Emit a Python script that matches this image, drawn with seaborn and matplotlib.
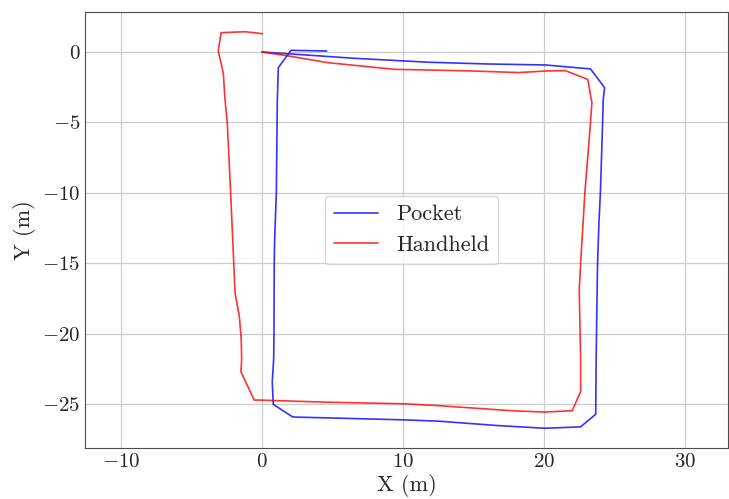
import matplotlib
matplotlib.use('Agg')
import matplotlib.pyplot as plt
import seaborn as sns
import pandas as pd

# траектория "Pocket" (синяя)
pocket_x = [0.0, 6.6, 11.9, 16.0, 20.1, 23.3, 24.3, 24.2, 24.16, 24.0, 23.9, 23.8, 23.7,
            23.67, 22.6, 20.07, 16.6, 12.6, 10.0, 2.18, 0.8, 0.73, 0.83, 0.85,
            0.87, 0.9, 1.02, 1.09, 1.16, 2.06, 4.59]
pocket_y = [0.0, -0.45, -0.73, -0.85, -0.92, -1.2, -2.53, -3.4, -5.0, -10.0, -12.1, -15.0, -21.8,
            -25.7, -26.6, -26.7, -26.5, -26.2, -26.1, -25.9, -25.0, -23.4, -21.8, -20.4,
            -15.0, -13.3, -10.0, -3.4, -1.11, 0.12, 0.07]

# траектория "Handheld" (красная)
hand_x = [0.0, 1.87, 4.7, 9.4, 11.9, 15.0, 18.2, 20.1, 21.5, 23.1, 23.4, 23.3, 22.9, 22.6,
          22.5, 22.6, 22.6, 22.0, 20.07, 17.8, 12.6, 10.0, 4.6, -0.14, -0.55, -1.49,
          -1.44, -1.47, -1.6, -1.91, -2.0, -2.22, -2.46, -2.62, -2.74, -3.1, -2.9,
          -1.2, 0.02]
hand_y = [0.0, -0.28, -0.76, -1.23, -1.28, -1.35, -1.46, -1.35, -1.32, -1.94, -3.6, -5.0, -10.0,
          -15.0, -16.9, -21.8, -24.1, -25.45, -25.55, -25.46, -25.1, -24.96, -24.85, -24.7,
          -24.7, -22.7, -21.8, -20.4, -18.8, -17.1, -15.0, -10.0, -5.0, -3.4, -1.51,
          0.07, 1.37, 1.44, 1.30]

pocket = pd.DataFrame({'x': pocket_x, 'y': pocket_y})
hand = pd.DataFrame({'x': hand_x, 'y': hand_y})

sns.set_style('whitegrid')
plt.rcParams['font.family'] = 'serif'
plt.rcParams['font.serif'] = ['cmr10']
plt.rcParams['mathtext.fontset'] = 'cm'
plt.rcParams['axes.formatter.use_mathtext'] = True
plt.rcParams['axes.unicode_minus'] = True

fig, ax = plt.subplots(figsize=(7.29, 4.99), dpi=100)
fig.subplots_adjust(left=0.1166, right=0.9986, bottom=0.1022, top=0.976)

sns.lineplot(data=pocket, x='x', y='y', sort=False, estimator=None, color='blue',
             alpha=0.8, linewidth=1.2, label='Pocket', ax=ax)
sns.lineplot(data=hand, x='x', y='y', sort=False, estimator=None, color='red',
             alpha=0.8, linewidth=1.2, label='Handheld', ax=ax)

ax.set_xlim(-12.55, 33.05)
ax.set_ylim(-28.1, 2.84)
ax.set_xticks([-10, 0, 10, 20, 30])
ax.set_yticks([0, -5, -10, -15, -20, -25])
ax.grid(True, color='0.8', linewidth=0.9)
for s in ax.spines.values():
    s.set_color('0.3')
    s.set_linewidth(0.8)
ax.tick_params(labelsize=15, length=0)
ax.set_xlabel('X (m)', fontsize=16, labelpad=2)
ax.set_ylabel('Y (m)', fontsize=16, labelpad=4)
ax.legend(loc='center', bbox_to_anchor=(0.508, 0.5), fontsize=16, frameon=True,
          fancybox=True, edgecolor='0.8')

plt.savefig('out.png', dpi=100)
plt.close()
